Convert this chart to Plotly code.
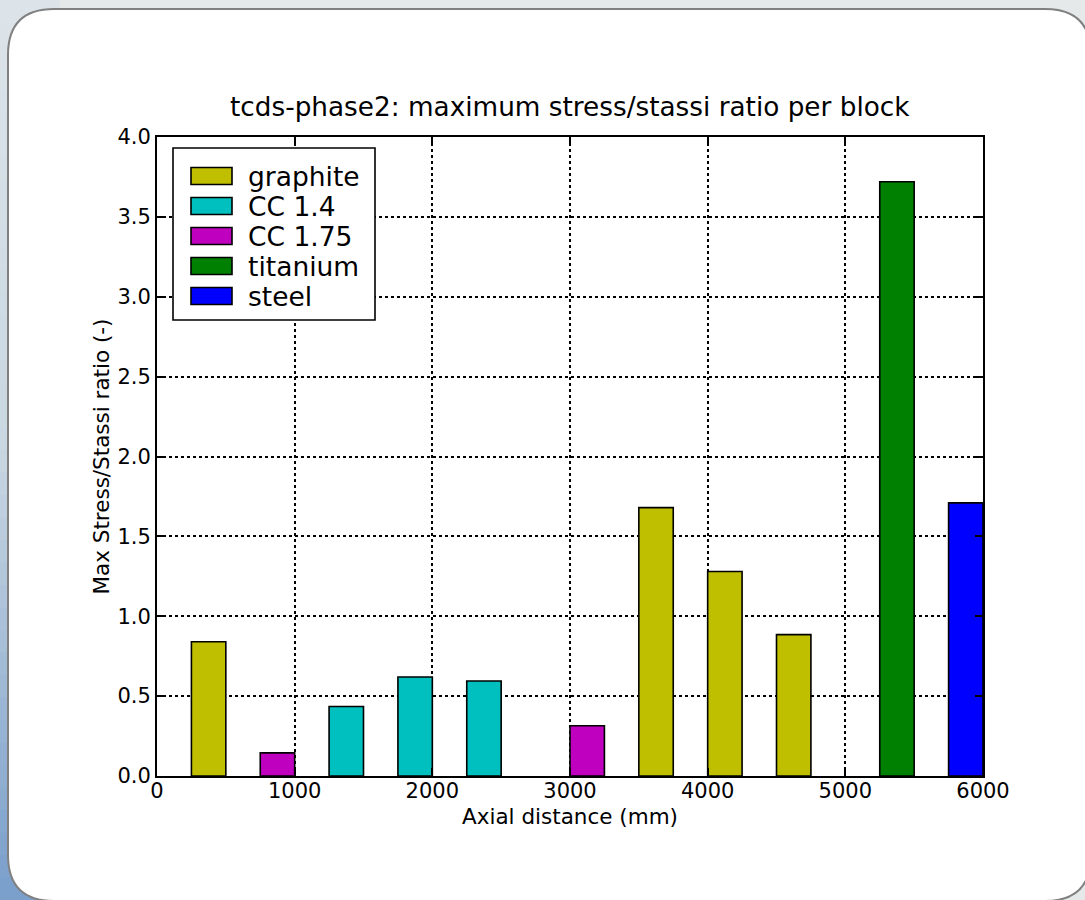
import plotly.graph_objects as go

# ---- data ----
block_start_mm = [250, 750, 1250, 1750, 2250, 3000, 3500, 4000, 4500, 5250, 5750]
block_length_mm = [250, 250, 250, 250, 250, 250, 250, 250, 250, 250, 250]
max_ratio = [0.84, 0.145, 0.435, 0.62, 0.595, 0.315, 1.68, 1.28, 0.885, 3.72, 1.71]
block_material = ["graphite", "CC 1.75", "CC 1.4", "CC 1.4", "CC 1.4", "CC 1.75",
                  "graphite", "graphite", "graphite", "titanium", "steel"]
materials = ["graphite", "CC 1.4", "CC 1.75", "titanium", "steel"]
material_colors = ["#bfbf00", "#00bfbf", "#bf00bf", "#008000", "#0000ff"]
x_ticks = [0, 1000, 2000, 3000, 4000, 5000, 6000]
y_ticks = [0.0, 0.5, 1.0, 1.5, 2.0, 2.5, 3.0, 3.5, 4.0]

W, H = 1085, 900
L, R, T, B = 157, 983, 137, 776
FONT = "DejaVu Sans"


def px(x):
    return (x - L) / (R - L)


def py(y):
    return (B - y) / (B - T)


fig = go.Figure()
cmap = dict(zip(materials, material_colors))
for mat in materials:
    idx = [i for i, m in enumerate(block_material) if m == mat]
    fig.add_trace(go.Bar(
        x=[block_start_mm[i] + block_length_mm[i] / 2 for i in idx],
        y=[max_ratio[i] for i in idx],
        width=[block_length_mm[i] for i in idx],
        name=mat,
        marker=dict(color=cmap[mat], line=dict(color="black", width=1.6)),
        showlegend=False,
        hoverinfo="x+y+name",
    ))

shapes = []
# outer background gradient strip on the left
n = 40
c_top = (0xdc, 0xe4, 0xe9)
c_mid = (0xc9, 0xd7, 0xe2)
c_bot = (0x7b, 0xa0, 0xcb)
for k in range(n):
    t = k / (n - 1)
    if t < 0.5:
        u = t / 0.5
        c = tuple(int(c_top[j] + (c_mid[j] - c_top[j]) * u) for j in range(3))
    else:
        u = (t - 0.5) / 0.5
        c = tuple(int(c_mid[j] + (c_bot[j] - c_mid[j]) * u) for j in range(3))
    y0 = H * k / n
    y1 = H * (k + 1) / n + 1
    shapes.append(dict(type="rect", xref="paper", yref="paper",
                       x0=px(0), x1=px(60), y0=py(y0), y1=py(y1),
                       fillcolor="rgb(%d,%d,%d)" % c, line=dict(width=0),
                       layer="below"))

# rounded card
cx0, cy0, cx1, cy1, rr = 8, 9, 1091, 901, 46
path = (
    f"M {px(cx0 + rr)},{py(cy0)} L {px(cx1 - rr)},{py(cy0)} "
    f"Q {px(cx1)},{py(cy0)} {px(cx1)},{py(cy0 + rr)} "
    f"L {px(cx1)},{py(cy1 - rr)} Q {px(cx1)},{py(cy1)} {px(cx1 - rr)},{py(cy1)} "
    f"L {px(cx0 + rr)},{py(cy1)} Q {px(cx0)},{py(cy1)} {px(cx0)},{py(cy1 - rr)} "
    f"L {px(cx0)},{py(cy0 + rr)} Q {px(cx0)},{py(cy0)} {px(cx0 + rr)},{py(cy0)} Z"
)
shapes.append(dict(type="path", xref="paper", yref="paper", path=path,
                   fillcolor="white", line=dict(color="#808080", width=2),
                   layer="below"))

# legend box
shapes.append(dict(type="rect", xref="paper", yref="paper",
                   x0=px(173), x1=px(375), y0=py(148), y1=py(320),
                   fillcolor="white", line=dict(color="black", width=1.6),
                   layer="above"))
annotations = []
row0, drow = 176, 30
for i, (mat, col) in enumerate(zip(materials, material_colors)):
    yc = row0 + i * drow
    shapes.append(dict(type="rect", xref="paper", yref="paper",
                       x0=px(191), x1=px(232), y0=py(yc - 8.5), y1=py(yc + 8.5),
                       fillcolor=col, line=dict(color="black", width=1.6),
                       layer="above"))
    annotations.append(dict(xref="paper", yref="paper", x=px(246), y=py(yc),
                            text=mat, showarrow=False, xanchor="left",
                            yanchor="middle",
                            font=dict(family=FONT, size=26.5, color="black")))

annotations.append(dict(xref="paper", yref="paper", x=0.5, y=py(107),
                        text="tcds-phase2: maximum stress/stassi ratio per block",
                        showarrow=False, xanchor="center", yanchor="middle",
                        font=dict(family=FONT, size=26.3, color="black")))
annotations.append(dict(xref="paper", yref="paper", x=0.5, y=py(816),
                        text="Axial distance (mm)", showarrow=False,
                        xanchor="center", yanchor="middle",
                        font=dict(family=FONT, size=21.5, color="black")))
annotations.append(dict(xref="paper", yref="paper", x=px(101), y=0.5,
                        text="Max Stress/Stassi ratio (-)", showarrow=False,
                        textangle=-90, xanchor="center", yanchor="middle",
                        font=dict(family=FONT, size=21.5, color="black")))

axis_common = dict(showline=True, linecolor="black", linewidth=2, mirror="allticks",
                   ticks="inside", ticklen=8, tickwidth=1.5, tickcolor="black",
                   showgrid=True, gridcolor="black", griddash="dot", gridwidth=1.5,
                   zeroline=False, tickfont=dict(family=FONT, size=21, color="black"))

fig.update_layout(
    width=W, height=H, autosize=False,
    margin=dict(l=L, r=W - R, t=T, b=H - B, pad=0),
    paper_bgcolor="#e6e9ea",
    plot_bgcolor="rgba(0,0,0,0)",
    barmode="overlay",
    shapes=shapes,
    annotations=annotations,
    xaxis=dict(range=[0, 6000], tickvals=x_ticks, ticklabelstandoff=-5,
               ticktext=[str(v) for v in x_ticks], **axis_common),
    yaxis=dict(range=[0, 4], tickvals=y_ticks,
               ticktext=["%.1f" % v for v in y_ticks], **axis_common),
)

fig.write_html(
    "out.html",
    config={"displayModeBar": False},
    post_script="document.body.style.margin='0px';document.body.style.overflow='hidden';",
)
